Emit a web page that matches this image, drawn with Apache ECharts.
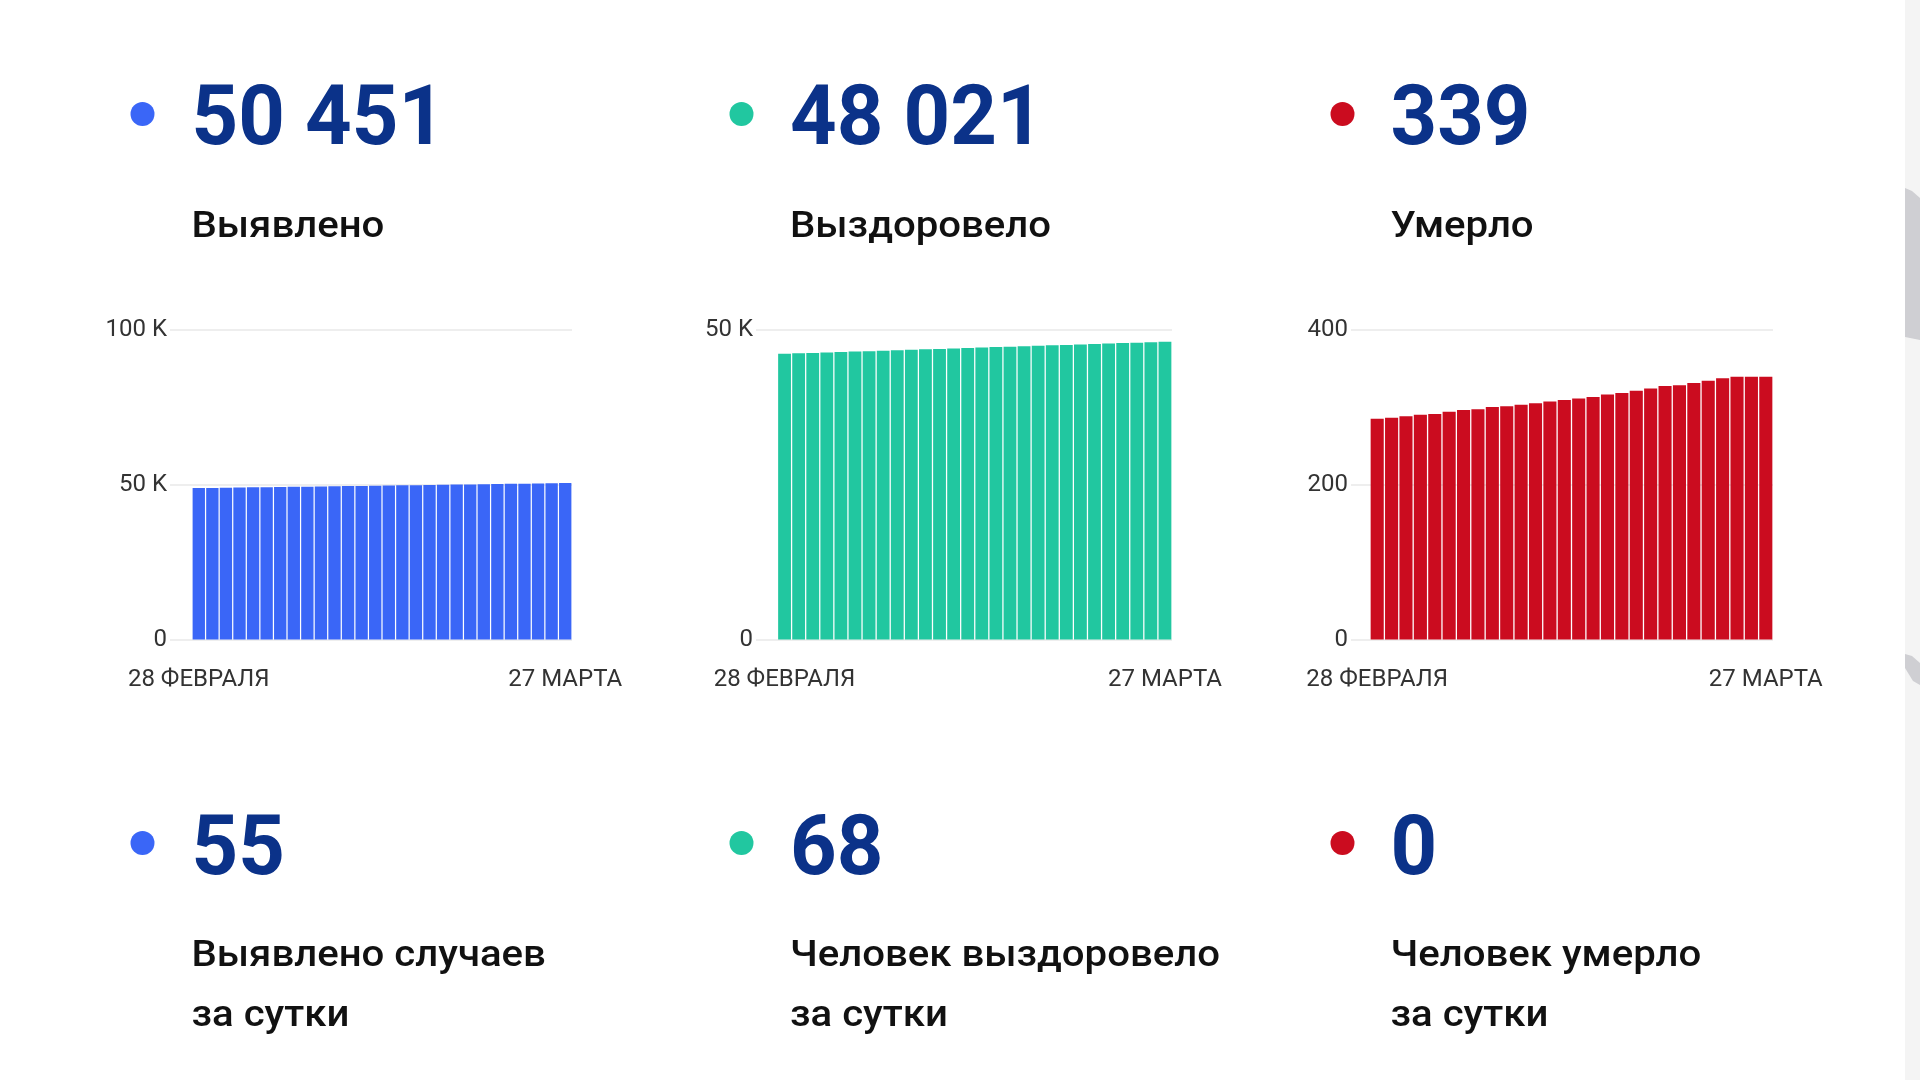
<!DOCTYPE html>
<html><head><meta charset="utf-8">
<script src="https://cdn.jsdelivr.net/npm/echarts@6/dist/echarts.min.js"></script>
<style>html,body{margin:0;padding:0;background:#fff}#c{width:1920px;height:1080px}</style>
</head><body><div id="c"></div>
<script>
const dates = ['28 ФЕВРАЛЯ','1 МАРТА','2 МАРТА','3 МАРТА','4 МАРТА','5 МАРТА','6 МАРТА','7 МАРТА','8 МАРТА','9 МАРТА','10 МАРТА','11 МАРТА','12 МАРТА','13 МАРТА','14 МАРТА','15 МАРТА','16 МАРТА','17 МАРТА','18 МАРТА','19 МАРТА','20 МАРТА','21 МАРТА','22 МАРТА','23 МАРТА','24 МАРТА','25 МАРТА','26 МАРТА','27 МАРТА'];
const detected = [48832,48891,48953,49012,49073,49132,49194,49253,49314,49373,49435,49494,49555,49614,49676,49735,49796,49855,49917,49976,50037,50096,50158,50217,50279,50338,50396,50451];
const recovered = [46080,46153,46224,46297,46368,46441,46512,46585,46656,46729,46800,46873,46944,47017,47088,47161,47232,47305,47376,47449,47520,47593,47664,47736,47809,47880,47953,48021];
const deaths = [285,286,288,290,291,294,296,297,300,301,303,305,307,309,311,313,316,318,321,324,327,328,331,334,337,339,339,339];
const totals = ['50 451','48 021','339'];
const totalLabels = ['Выявлено','Выздоровело','Умерло'];
const daily = ['55','68','0'];
const dailyLabels = [['Выявлено случаев','за сутки'],['Человек выздоровело','за сутки'],['Человек умерло','за сутки']];
const yMax = [100000, 50000, 400];
const yStep = [50000, 50000, 200];

const colors = ['#3a66f7','#21c7a0','#cb0c1f'];
const series3 = [detected, recovered, deaths];
const layout = [
  {dot:142.5, text:191.5, gl:170, bl:192, br:572},
  {dot:741.5, text:790, gl:756, bl:777.5, br:1172},
  {dot:1342.5, text:1390.5, gl:1351, bl:1370, br:1773}
];
const TOP = 329.5, H = 310;
const fmt = v => v >= 1000 ? (v/1000) + ' K' : String(v);

const numStyle = t => ({text:t, fontSize:83, fontWeight:'bold', fontFamily:'Roboto', fill:'#0b3289', align:'left', verticalAlign:'middle'});
const lblStyle = t => ({text:t, fontSize:36, fontWeight:500, fontFamily:'Roboto', fill:'#111', align:'left', verticalAlign:'middle'});

const grids=[], xAxes=[], yAxes=[], series=[], graphics=[];
layout.forEach((L,i)=>{
  grids.push({left:L.bl, top:TOP, width:L.br-L.bl, height:H});
  grids.push({left:L.gl, top:TOP, width:L.br-L.gl, height:H});
  const ga = 2*i, gb = 2*i+1;
  xAxes.push({gridIndex:ga, type:'category', data:dates, axisLine:{show:false}, axisTick:{show:false},
    axisLabel:{interval:(idx)=> idx===0 || idx===dates.length-1, fontSize:24, color:'#333', fontFamily:'Roboto', margin:28}});
  xAxes.push({gridIndex:gb, type:'category', data:dates, show:false});
  yAxes.push({gridIndex:ga, type:'value', min:0, max:yMax[i], interval:yStep[i], show:false, splitLine:{show:false}});
  yAxes.push({gridIndex:gb, type:'value', min:0, max:yMax[i], interval:yStep[i], axisLine:{show:false}, axisTick:{show:false},
    axisLabel:{formatter:fmt, fontSize:24, color:'#333', fontFamily:'Roboto', margin:3},
    splitLine:{lineStyle:{color:'#eeeeee', width:2}}});
  series.push({type:'bar', xAxisIndex:ga, yAxisIndex:ga, data:series3[i], barCategoryGap:'9%',
    itemStyle:{color:colors[i]}, silent:true});
  graphics.push({type:'circle', shape:{cx:L.dot, cy:114, r:12}, style:{fill:colors[i]}});
  graphics.push({type:'text', x:L.text, y:123, scaleX:0.98, style:numStyle(totals[i])});
  graphics.push({type:'text', x:L.text, y:228, scaleX:1.115, style:lblStyle(totalLabels[i])});
  graphics.push({type:'circle', shape:{cx:L.dot, cy:843, r:12}, style:{fill:colors[i]}});
  graphics.push({type:'text', x:L.text, y:853, scaleX:0.98, style:numStyle(daily[i])});
  graphics.push({type:'text', x:L.text, y:957, scaleX:1.115, style:lblStyle(dailyLabels[i][0])});
  graphics.push({type:'text', x:L.text, y:1017, scaleX:1.115, style:lblStyle(dailyLabels[i][1])});
});
graphics.push({type:'rect', shape:{x:1905, y:0, width:15, height:1080}, style:{fill:'#f4f4f4'}});
graphics.push({type:'polygon', shape:{points:[[1905,188],[1912,191],[1920,198],[1920,340],[1905,337]]}, style:{fill:'#cfcfd3'}});
graphics.push({type:'polygon', shape:{points:[[1905,654],[1912,656],[1920,663],[1920,685],[1913,681],[1905,668]]}, style:{fill:'#cfcfd3'}});

const chart = echarts.init(document.getElementById('c'), null, {renderer:'canvas'});
chart.setOption({backgroundColor:'#ffffff', animation:false, grid:grids, xAxis:xAxes, yAxis:yAxes, series:series, graphic:graphics});
</script></body></html>
